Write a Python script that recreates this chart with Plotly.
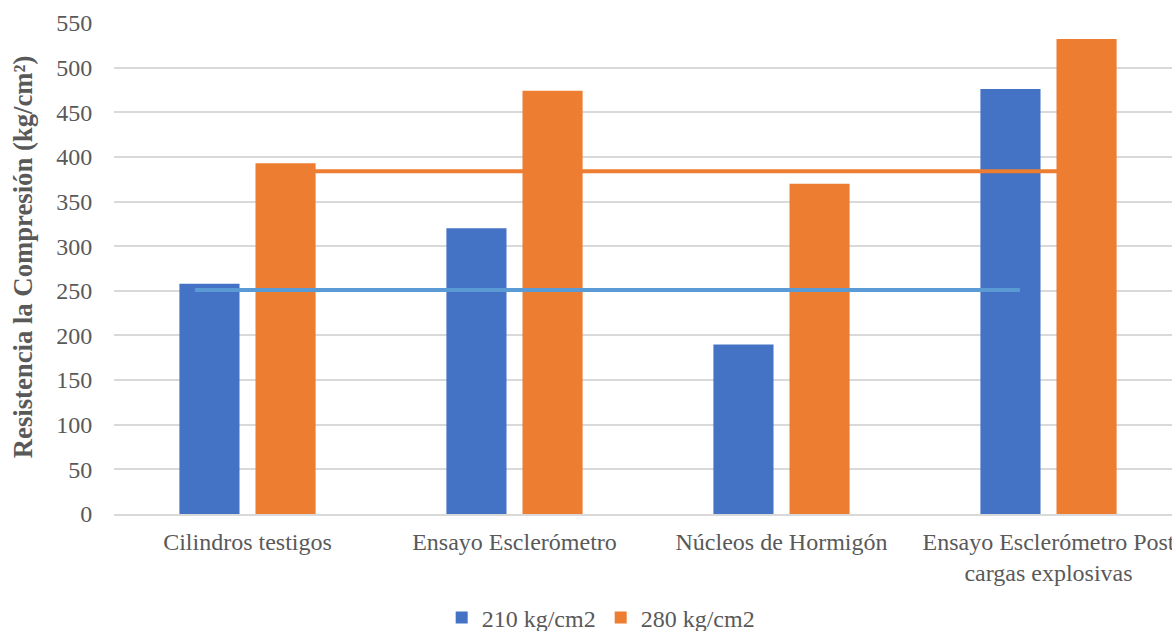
import plotly.graph_objects as go

categories = [
    "Cilindros testigos",
    "Ensayo Esclerómetro",
    "Núcleos de Hormigón",
    "Ensayo Esclerómetro Post<br>cargas explosivas",
]
series_210 = [258, 320, 190, 476]
series_280 = [393, 474, 370, 532]

# design strength reference levels
ref_210 = 251
ref_280 = 384

y_ticks = [0, 50, 100, 150, 200, 250, 300, 350, 400, 450, 500, 550]
y_title = "Resistencia la Compresión (kg/cm²)"

BLUE = "#4472C4"
ORANGE = "#ED7D31"
LIGHT_BLUE = "#5B9BD5"
TEXT = "#595959"
GRID = "#D9D9D9"
FONT = "Liberation Serif"

fig = go.Figure()
fig.add_trace(go.Bar(name="210 kg/cm2", x=categories, y=series_210,
                     marker=dict(color=BLUE, line=dict(width=0))))
fig.add_trace(go.Bar(name="280 kg/cm2", x=categories, y=series_280,
                     marker=dict(color=ORANGE, line=dict(width=0))))

# horizontal reference segments drawn over the bars
fig.add_shape(type="line", xref="x", yref="y", x0=-0.197, x1=2.893,
              y0=ref_210, y1=ref_210, line=dict(color=LIGHT_BLUE, width=4))
fig.add_shape(type="line", xref="x", yref="y", x0=0.22, x1=3.036,
              y0=ref_280, y1=ref_280, line=dict(color=ORANGE, width=4))

# vertical axis title
fig.add_annotation(text="<b>" + y_title + "</b>", textangle=-90,
                   xref="paper", yref="paper", x=-0.086, y=0.523,
                   xanchor="center", yanchor="middle", showarrow=False,
                   font=dict(family=FONT, size=26.7, color=TEXT))

fig.update_layout(
    width=1172, height=631,
    margin=dict(l=114, r=0, t=23, b=117, autoexpand=False),
    paper_bgcolor="white", plot_bgcolor="white",
    barmode="group", bargap=0.43, bargroupgap=0.21,
    font=dict(family=FONT, size=24, color=TEXT),
    showlegend=True,
    legend=dict(orientation="h", x=0.46, xanchor="center", y=-0.166,
                yanchor="top", font=dict(family=FONT, size=24, color=TEXT),
                itemclick=False, tracegroupgap=0),
    xaxis=dict(range=[-0.5, 3.4625], showgrid=False, showline=True,
               linecolor=GRID, linewidth=1.5, ticks="outside", ticklen=5,
               tickcolor="rgba(0,0,0,0)", automargin=False,
               tickfont=dict(family=FONT, size=24, color=TEXT)),
    yaxis=dict(range=[0, 550], tickvals=y_ticks, showgrid=True, gridcolor=GRID,
               gridwidth=1.5, zeroline=False, showline=False, ticks="outside",
               ticklen=16, tickcolor="rgba(0,0,0,0)", automargin=False,
               tickfont=dict(family=FONT, size=24, color=TEXT)),
)

fig.write_html("out.html")
